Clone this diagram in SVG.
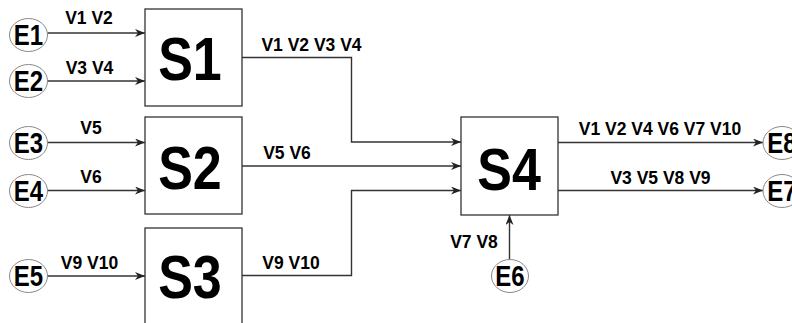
<svg xmlns="http://www.w3.org/2000/svg" width="792" height="323" viewBox="0 0 792 323">
<style>
.box{fill:#fff;stroke:#333;stroke-width:1.3}
.ent{fill:#fff;stroke:#888;stroke-width:1}
.big{font-family:"Liberation Sans",Arial,sans-serif;font-weight:bold;font-size:52px;text-anchor:middle;fill:#000}
.el{font-family:"Liberation Sans",Arial,sans-serif;font-weight:bold;font-size:24px;text-anchor:middle;fill:#000}
.lbl{font-family:"Liberation Sans",Arial,sans-serif;font-weight:bold;font-size:17.5px;text-anchor:middle;fill:#000}
.wire{fill:none;stroke:#333;stroke-width:1.4}
</style>
<defs>
<marker id="arr" viewBox="0 0 10 8" refX="10" refY="4" markerWidth="10" markerHeight="8" markerUnits="userSpaceOnUse" orient="auto">
<path d="M0,0 L10,4 L0,8 L3,4 z" fill="#222"/>
</marker>
</defs>
<rect width="792" height="323" fill="#fff"/>
<g id="connectors">
<path class="wire" marker-end="url(#arr)" d="M47.5,33 H145"/>
<path class="wire" marker-end="url(#arr)" d="M47.5,81 H145"/>
<path class="wire" marker-end="url(#arr)" d="M47.5,142.5 H145"/>
<path class="wire" marker-end="url(#arr)" d="M47.5,190.5 H145"/>
<path class="wire" marker-end="url(#arr)" d="M47.5,276 H145"/>
<path class="wire" marker-end="url(#arr)" d="M242,57.5 H351.5 V142 H461"/>
<path class="wire" marker-end="url(#arr)" d="M242,166 H461"/>
<path class="wire" marker-end="url(#arr)" d="M242,275.5 H351.5 V190.5 H461"/>
<path class="wire" marker-end="url(#arr)" d="M558,142.5 H763"/>
<path class="wire" marker-end="url(#arr)" d="M558,190.5 H763"/>
<path class="wire" marker-end="url(#arr)" d="M509.5,259.5 V215"/>
<text class="lbl" x="89" y="24">V1 V2</text>
<text class="lbl" x="89.5" y="74">V3 V4</text>
<text class="lbl" x="91" y="134">V5</text>
<text class="lbl" x="91" y="182.5">V6</text>
<text class="lbl" x="89.5" y="268.5">V9 V10</text>
<text class="lbl" x="311.5" y="50.5">V1 V2 V3 V4</text>
<text class="lbl" x="287" y="159">V5 V6</text>
<text class="lbl" x="291" y="269">V9 V10</text>
<text class="lbl" x="474" y="247.5">V7 V8</text>
<text class="lbl" x="660" y="135">V1 V2 V4 V6 V7 V10</text>
<text class="lbl" x="660.5" y="184">V3 V5 V8 V9</text>
</g>
<g id="S1"><rect class="box" x="145" y="9" width="97" height="97"/><text class="big" transform="translate(190,80) scale(1,1.17)">S1</text></g>
<g id="S2"><rect class="box" x="145" y="117" width="97" height="97"/><text class="big" transform="translate(190,188.5) scale(1,1.17)">S2</text></g>
<g id="S3"><rect class="box" x="145" y="228" width="97" height="97"/><text class="big" transform="translate(190,297.5) scale(1,1.17)">S3</text></g>
<g id="S4"><rect class="box" x="461" y="117" width="97" height="98"/><text class="big" transform="translate(509,190) scale(1,1.15)">S4</text></g>
<g id="E1"><ellipse class="ent" cx="28.5" cy="35" rx="19" ry="16.5"/><text class="el" transform="translate(28.5,44.5) scale(1,1.2)">E1</text></g>
<g id="E2"><ellipse class="ent" cx="28.5" cy="81" rx="19" ry="16.5"/><text class="el" transform="translate(28.5,90.5) scale(1,1.2)">E2</text></g>
<g id="E3"><ellipse class="ent" cx="28.5" cy="143" rx="19" ry="16.5"/><text class="el" transform="translate(28.5,152.5) scale(1,1.2)">E3</text></g>
<g id="E4"><ellipse class="ent" cx="28.5" cy="191" rx="19" ry="16.5"/><text class="el" transform="translate(28.5,200.5) scale(1,1.2)">E4</text></g>
<g id="E5"><ellipse class="ent" cx="28.5" cy="276" rx="19" ry="16.5"/><text class="el" transform="translate(28.5,285.5) scale(1,1.2)">E5</text></g>
<g id="E6"><ellipse class="ent" cx="510" cy="276" rx="18.5" ry="16.5"/><text class="el" transform="translate(510,285.5) scale(1,1.2)">E6</text></g>
<g id="E8"><ellipse class="ent" cx="782" cy="143" rx="19" ry="16.5"/><text class="el" transform="translate(782,152.5) scale(1,1.2)">E8</text></g>
<g id="E7"><ellipse class="ent" cx="782" cy="191" rx="19" ry="16.5"/><text class="el" transform="translate(782,200.5) scale(1,1.2)">E7</text></g>
</svg>
